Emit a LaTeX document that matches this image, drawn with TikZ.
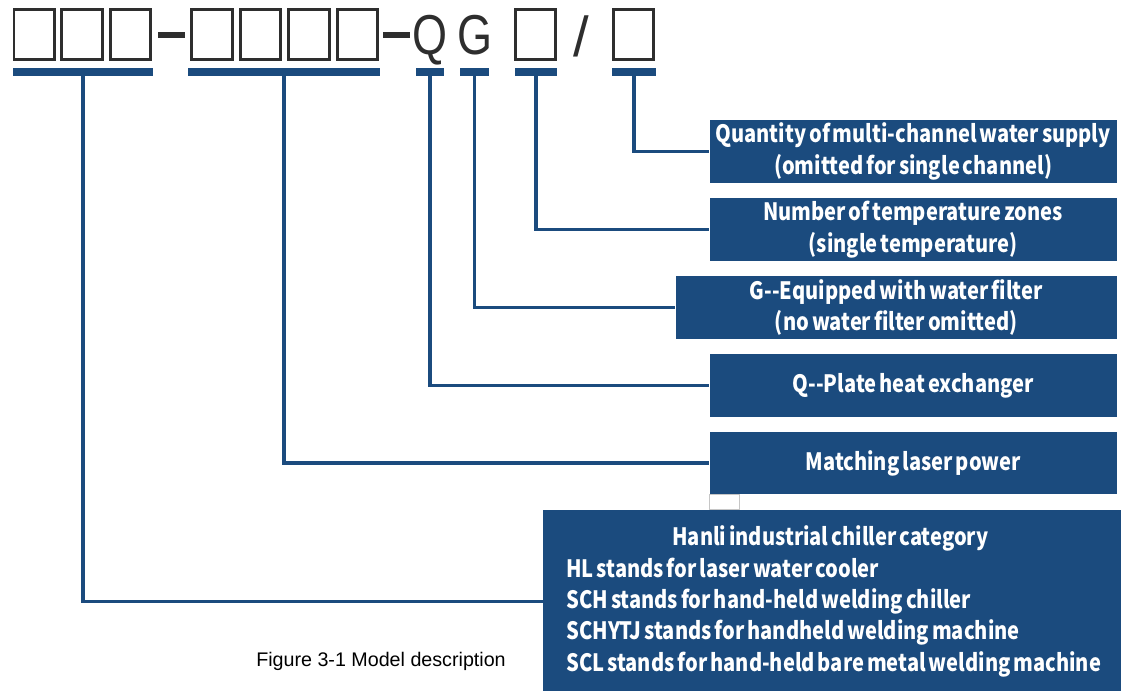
\documentclass[tikz,border=0pt]{standalone}
\usepackage{xcolor}
\usepackage{graphicx}
\usepackage{fontspec}
\setmainfont{Liberation Sans}
\newfontfamily\cjk{Noto Sans CJK SC}[FakeStretch=0.84, WordSpace=0.65]
\usepackage{tikz}
\usetikzlibrary{positioning}
\definecolor{hanliblue}{HTML}{1B4B7E}
\definecolor{boxgray}{HTML}{2E2E2E}

\begin{document}
\begin{tikzpicture}[x=0.025cm, y=-0.025cm,
  digit/.style={draw=boxgray, line width=1.9pt, fill=white, minimum width=1.01cm, minimum height=1.26cm, inner sep=0},
  bar/.style={fill=hanliblue, inner sep=0, minimum height=0.2cm},
  info/.style={fill=hanliblue, text=white, font=\cjk\bfseries\fontsize{17}{22.7}\selectfont, align=center, minimum height=1.55cm, minimum width=10.175cm, inner sep=0, anchor=east},
  link/.style={draw=hanliblue, line width=2.2pt},
  letter/.style={text=boxgray, font=\fontsize{40}{40}\selectfont, inner sep=0, anchor=base}]
\useasboundingbox (0,0) rectangle (1121,691);

% model code
\foreach \x [count=\i] in {34.2, 82, 130.5}
  \node[digit] (d\i) at (\x,34.5) {};
\foreach \x [count=\i] in {212, 260.5, 309, 357.5}
  \node[digit] (p\i) at (\x,34.5) {};
\node[fill=boxgray, inner sep=0, minimum width=0.675cm, minimum height=0.15cm] (dash1) at (171.5,35) {};
\node[fill=boxgray, inner sep=0, minimum width=0.675cm, minimum height=0.15cm] (dash2) at (396.5,35) {};
\node[letter] (q) at (430,54) {\scalebox{0.8}[1]{Q}};
\node[letter] (g) at (475,54) {\scalebox{0.8}[1]{G}};
\node[digit] (zone) at (535.5,34.5) {};
\node[letter] (slash) at (581,56) {/};
\node[digit] (chan) at (633.5,34.5) {};

% bars
\node[bar, minimum width=3.5cm] (b1) at (83,72) {};
\node[bar, minimum width=4.8cm] (b2) at (284,72) {};
\node[bar, minimum width=0.7cm] (bq) at (430,72) {};
\node[bar, minimum width=0.725cm] (bg) at (474.5,72) {};
\node[bar, minimum width=1.05cm] (bz) at (536,72) {};
\node[bar, minimum width=1.1cm] (bc) at (634,72) {};

% descriptions
\node[info] (qty) at (1117,151.5) {Quantity of multi-channel water supply\\(omitted for single channel)};
\node[info] (temp) at (1117,229.5) {Number of temperature zones\\(single temperature)};
\node[info, minimum width=11.025cm] (filter) at (1117,307.5) {G--Equipped with water filter\\(no water filter omitted)};
\node[info] (plate) at (1117,385.5) {Q--Plate heat exchanger};
\node[info] (power) at (1117,463) {Matching laser power};
\node[draw=gray!45, line width=0.6pt, fill=white, minimum width=0.75cm, minimum height=0.375cm, inner sep=0, anchor=north west] (gap) at (power.south west) {};
\node[fill=hanliblue, text=white, font=\cjk\bfseries\fontsize{17}{22.3}\selectfont, align=left, inner xsep=0.575cm, inner ysep=0, minimum height=4.55cm, anchor=north west] (hanli) at (543,510) {\makebox[13.2cm][c]{Hanli industrial chiller category}\\HL stands for laser water cooler\\SCH stands for hand-held welding chiller\\SCHYTJ stands for handheld welding machine\\SCL stands for hand-held bare metal welding machine};

% connectors
\draw[link] (bc.south) |- (qty.west);
\draw[link] (bz.south) |- (temp.west);
\draw[link] (bg.south) |- (filter.west);
\draw[link] (bq.south) |- (plate.west);
\draw[link] (b2.south) |- (power.west);
\draw[link] (b1.south) |- (hanli.west);

\node[font=\fontsize{14}{16}\selectfont] (caption) at (381,661) {Figure 3-1 Model description};
\end{tikzpicture}
\end{document}
